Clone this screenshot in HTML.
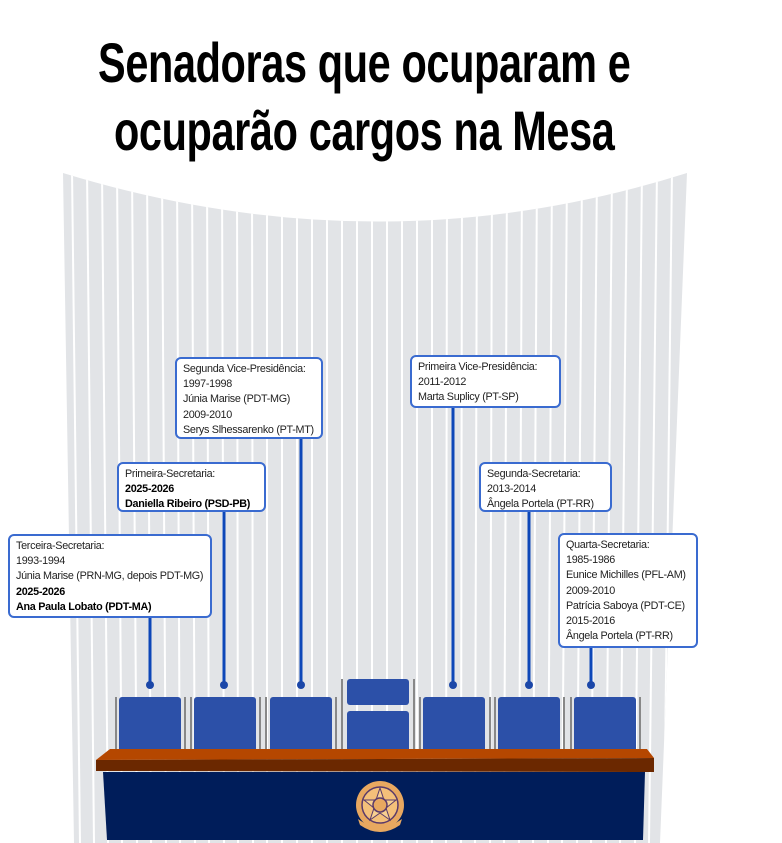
<!DOCTYPE html>
<html><head><meta charset="utf-8"><style>
body{margin:0;width:782px;height:843px;background:#fff;position:relative;overflow:hidden;font-family:"Liberation Sans",sans-serif}
.t{position:absolute;left:0;width:730px;text-align:center;font-family:"Liberation Sans",sans-serif;font-weight:bold;font-size:56px;color:#000;letter-spacing:-0.5px;transform:scaleX(0.74);transform-origin:362px 0;white-space:nowrap}
.b{position:absolute;background:#fff;border:2px solid #3a6bd0;border-radius:6px;font-size:10.8px;letter-spacing:-0.3px;line-height:15.2px;color:#222;padding:3px 6px 2px 6px;box-sizing:border-box;white-space:nowrap;overflow:hidden}
.b b{color:#000}
</style></head><body>
<svg width="782" height="843" style="position:absolute;left:0;top:0">
<defs><clipPath id="c"><path d="M63,173 Q380,270 687,173 L660,843 L74,843 Z"/></clipPath></defs>
<g clip-path="url(#c)">
<rect x="0" y="150" width="782" height="700" fill="#e2e4e7"/>
<g stroke="#fff" stroke-width="2">
<line x1="72" y1="170" x2="80" y2="843"/><line x1="87" y1="170" x2="94" y2="843"/><line x1="102" y1="170" x2="108" y2="843"/><line x1="117" y1="170" x2="122" y2="843"/><line x1="132" y1="170" x2="137" y2="843"/><line x1="147" y1="170" x2="151" y2="843"/><line x1="162" y1="170" x2="166" y2="843"/><line x1="177" y1="170" x2="180" y2="843"/><line x1="192" y1="170" x2="195" y2="843"/><line x1="207" y1="170" x2="209" y2="843"/><line x1="222" y1="170" x2="224" y2="843"/><line x1="237" y1="170" x2="238" y2="843"/><line x1="252" y1="170" x2="253" y2="843"/><line x1="267" y1="170" x2="267" y2="843"/><line x1="282" y1="170" x2="282" y2="843"/><line x1="297" y1="170" x2="297" y2="843"/><line x1="312" y1="170" x2="312" y2="843"/><line x1="327" y1="170" x2="327" y2="843"/><line x1="342" y1="170" x2="342" y2="843"/><line x1="357" y1="170" x2="357" y2="843"/><line x1="372" y1="170" x2="372" y2="843"/><line x1="387" y1="170" x2="387" y2="843"/><line x1="402" y1="170" x2="402" y2="843"/><line x1="417" y1="170" x2="417" y2="843"/><line x1="432" y1="170" x2="432" y2="843"/><line x1="447" y1="170" x2="446" y2="843"/><line x1="462" y1="170" x2="461" y2="843"/><line x1="477" y1="170" x2="475" y2="843"/><line x1="492" y1="170" x2="490" y2="843"/><line x1="507" y1="170" x2="504" y2="843"/><line x1="522" y1="170" x2="519" y2="843"/><line x1="537" y1="170" x2="533" y2="843"/><line x1="552" y1="170" x2="548" y2="843"/><line x1="567" y1="170" x2="562" y2="843"/><line x1="582" y1="170" x2="577" y2="843"/><line x1="597" y1="170" x2="591" y2="843"/><line x1="612" y1="170" x2="606" y2="843"/><line x1="627" y1="170" x2="620" y2="843"/><line x1="642" y1="170" x2="635" y2="843"/><line x1="657" y1="170" x2="649" y2="843"/><line x1="672" y1="170" x2="664" y2="843"/>
</g></g>
<g stroke="#0d47b8" stroke-width="3">
<line x1="150" y1="617" x2="150" y2="685"/><line x1="224" y1="511" x2="224" y2="685"/><line x1="301" y1="438" x2="301" y2="685"/><line x1="453" y1="407" x2="453" y2="685"/><line x1="529" y1="511" x2="529" y2="685"/><line x1="591" y1="647" x2="591" y2="685"/>
</g>
<g fill="#1b47a8"><circle cx="150" cy="685" r="4"/><circle cx="224" cy="685" r="4"/><circle cx="301" cy="685" r="4"/><circle cx="453" cy="685" r="4"/><circle cx="529" cy="685" r="4"/><circle cx="591" cy="685" r="4"/></g>
<g fill="#888">
<rect x="115" y="697" width="2" height="53"/><rect x="184" y="697" width="2" height="53"/><rect x="190" y="697" width="2" height="53"/><rect x="259" y="697" width="2" height="53"/><rect x="265" y="697" width="2" height="53"/><rect x="335" y="697" width="2" height="53"/><rect x="341" y="679" width="2" height="71"/><rect x="413" y="679" width="2" height="71"/><rect x="419" y="697" width="2" height="53"/><rect x="489" y="697" width="2" height="53"/><rect x="494" y="697" width="2" height="53"/><rect x="563" y="697" width="2" height="53"/><rect x="570" y="697" width="2" height="53"/><rect x="639" y="697" width="2" height="53"/>
</g>
<g fill="#2c50a8">
<rect x="119" y="697" width="62" height="55" rx="3"/><rect x="194" y="697" width="62" height="55" rx="3"/><rect x="270" y="697" width="62" height="55" rx="3"/><rect x="347" y="679" width="62" height="26" rx="3"/><rect x="347" y="711" width="62" height="41" rx="3"/><rect x="423" y="697" width="62" height="55" rx="3"/><rect x="498" y="697" width="62" height="55" rx="3"/><rect x="574" y="697" width="62" height="55" rx="3"/>
</g>
<polygon points="103,772 645,772 643,840 107,840" fill="#001d5a"/>
<polygon points="110,749 647,749 654,758 96,760" fill="#b54700"/>
<polygon points="96,760 654,758 654,772 96,771" fill="#6b2800"/>
<g transform="translate(380,805)">
<circle r="24" fill="#e8a860"/><circle r="18" fill="#f4c07a" stroke="#5a3a6a" stroke-width="1.5"/>
<polygon points="0,-17 4,-5 16,-5 6,3 10,15 0,8 -10,15 -6,3 -16,-5 -4,-5" fill="#f8d090" stroke="#5a3a6a"/>
<circle r="7" fill="#e8a860" stroke="#5a3a6a" stroke-width="1.5"/>
<path d="M-22,14 Q0,30 22,14 L20,20 Q0,34 -20,20Z" fill="#e8a860"/>
</g>
</svg>
<div class="t" style="top:30px">Senadoras que ocuparam e</div>
<div class="t" style="top:98px">ocuparão cargos na Mesa</div>
<div class="b" style="left:175px;top:357px;width:148px;height:82px">Segunda Vice-Presidência:<br>1997-1998<br>Júnia Marise (PDT-MG)<br>2009-2010<br>Serys Slhessarenko (PT-MT)</div>
<div class="b" style="left:410px;top:355px;width:151px;height:53px">Primeira Vice-Presidência:<br>2011-2012<br>Marta Suplicy (PT-SP)</div>
<div class="b" style="left:117px;top:462px;width:149px;height:50px">Primeira-Secretaria:<br><b>2025-2026</b><br><b>Daniella Ribeiro (PSD-PB)</b></div>
<div class="b" style="left:479px;top:462px;width:133px;height:50px">Segunda-Secretaria:<br>2013-2014<br>Ângela Portela (PT-RR)</div>
<div class="b" style="left:8px;top:534px;width:204px;height:84px">Terceira-Secretaria:<br>1993-1994<br>Júnia Marise (PRN-MG, depois PDT-MG)<br><b>2025-2026</b><br><b>Ana Paula Lobato (PDT-MA)</b></div>
<div class="b" style="left:558px;top:533px;width:140px;height:115px">Quarta-Secretaria:<br>1985-1986<br>Eunice Michilles (PFL-AM)<br>2009-2010<br>Patrícia Saboya (PDT-CE)<br>2015-2016<br>Ângela Portela (PT-RR)</div>
</body></html>
